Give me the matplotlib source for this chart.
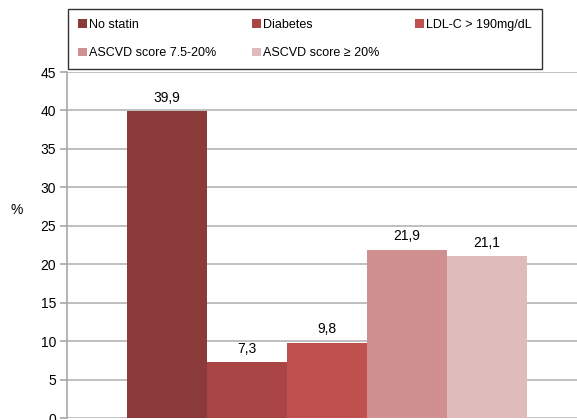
import matplotlib
matplotlib.use('Agg')
import matplotlib.pyplot as plt
import numpy as np

plt.rcParams['font.family'] = ['Liberation Sans', 'DejaVu Sans']

categories = ['No statin', 'Diabetes', 'LDL-C > 190mg/dL',
              'ASCVD score 7.5-20%', 'ASCVD score \u2265 20%']
values = [39.9, 7.3, 9.8, 21.9, 21.1]
value_labels = ['39,9', '7,3', '9,8', '21,9', '21,1']
colors = ['#8B3A3A', '#A94545', '#C0504D', '#D09090', '#E0BBBB']
yticks = [0, 5, 10, 15, 20, 25, 30, 35, 40, 45]

fig = plt.figure(figsize=(5.77, 4.2), dpi=100)
ax = fig.add_axes([67 / 577, 2 / 420, 520 / 577, 346 / 420])

bar_w = 0.154
x = np.arange(len(values)) * bar_w - 2 * bar_w
handles = []
for xi, v, lab, c, name in zip(x, values, value_labels, colors, categories):
    b = ax.bar(xi, v, width=bar_w, color=c, label=name, zorder=3)
    handles.append(b)
    ax.text(xi, v + 0.8, lab, ha='center', va='bottom', fontsize=10, zorder=4)

ax.set_xlim(-0.5, 0.5)
ax.set_ylim(0, 45)
ax.set_yticks(yticks)
ax.set_yticklabels([str(t) for t in yticks], fontsize=10)
ax.set_xticks([])
ax.yaxis.grid(True, color='#B4B4B4', linewidth=1.2, zorder=0)
for s in ['top', 'right', 'bottom']:
    ax.spines[s].set_visible(False)
ax.spines['left'].set_color('#A8A8A8')
ax.spines['left'].set_linewidth(1.2)
ax.tick_params(axis='y', length=5, width=1.2, color='#A8A8A8', pad=3)
ax.set_ylabel('%', rotation=0, fontsize=10, va='center', ha='center')
ax.yaxis.set_label_coords(-0.096, 0.60)

# legend, row-major order
order = [0, 3, 1, 4, 2]
leg = fig.legend([handles[i] for i in order], [categories[i] for i in order],
                 ncol=3, loc='upper left', mode='expand',
                 bbox_to_anchor=(68 / 577, 1 - 9 / 420, 474 / 577, 0),
                 fontsize=9, frameon=True, fancybox=False, edgecolor='black',
                 handlelength=0.7, handleheight=0.7, handletextpad=0.2,
                 borderpad=0.8, labelspacing=1.3, borderaxespad=0)
leg.get_frame().set_linewidth(1.0)

fig.savefig('out.png', dpi=100)
